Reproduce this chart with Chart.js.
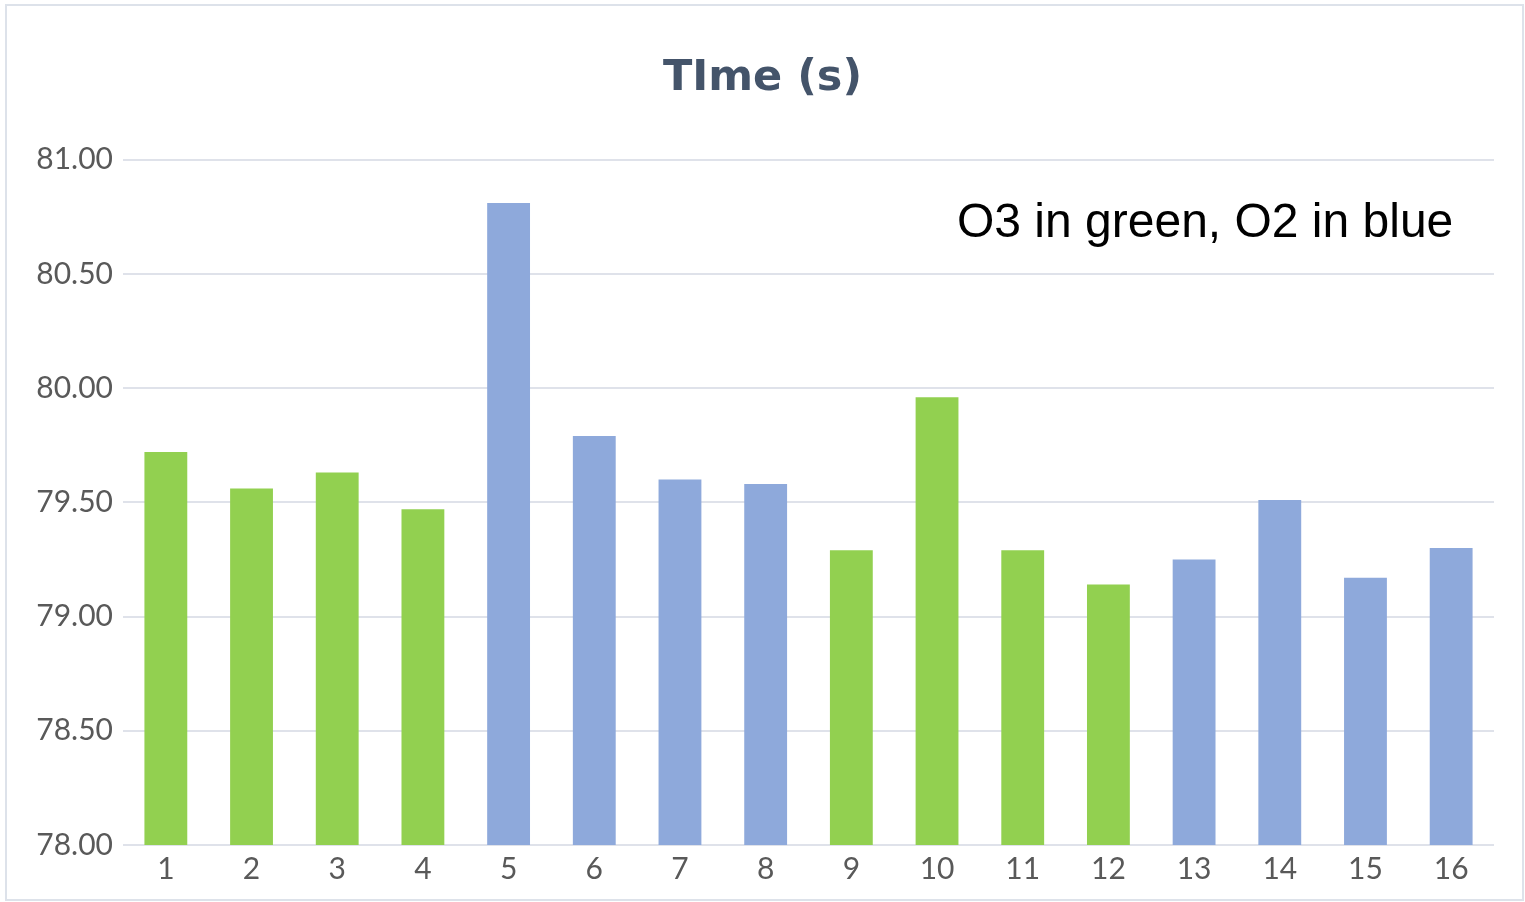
<!DOCTYPE html>
<html>
<head>
<meta charset="utf-8">
<style>
  html, body { margin: 0; padding: 0; background: #ffffff; }
  #wrap { position: relative; width: 1525px; height: 902px; }
</style>
<script src="https://cdn.jsdelivr.net/npm/chart.js@4/dist/chart.umd.min.js"></script>
</head>
<body>
<div id="wrap"><canvas id="chart" width="1525" height="902"></canvas></div>
<script>
// Run numbers shown along the x axis
const runs = ['1', '2', '3', '4', '5', '6', '7', '8', '9', '10', '11', '12', '13', '14', '15', '16'];
// Which optimisation level each run used
const levels = ['O3', 'O3', 'O3', 'O3', 'O2', 'O2', 'O2', 'O2', 'O3', 'O3', 'O3', 'O3', 'O2', 'O2', 'O2', 'O2'];
// Measured time in seconds
const times = [79.72, 79.56, 79.63, 79.47, 80.81, 79.79, 79.60, 79.58, 79.29, 79.96, 79.29, 79.14, 79.25, 79.51, 79.17, 79.30];
// Y axis range and step
const yTicks = { min: 78, max: 81, step: 0.5 };

const levelColors = { O3: '#92D050', O2: '#8EA9DB' };

// Light frame around the whole chart plus the colour note
const framePlugin = {
  id: 'frameAndNote',
  beforeDraw(chart) {
    const ctx = chart.ctx;
    ctx.save();
    ctx.fillStyle = '#ffffff';
    ctx.fillRect(0, 0, chart.width, chart.height);
    ctx.strokeStyle = '#dde2ea';
    ctx.lineWidth = 2;
    ctx.strokeRect(6, 5, chart.width - 8, chart.height - 7);
    ctx.restore();
  },
  afterDraw(chart) {
    const ctx = chart.ctx;
    ctx.save();
    ctx.fillStyle = '#000000';
    ctx.font = '48px "Liberation Sans", Arial, sans-serif';
    ctx.textBaseline = 'alphabetic';
    ctx.textAlign = 'left';
    ctx.fillText('O3 in green, O2 in blue', 957, 237);
    ctx.restore();
  }
};

new Chart(document.getElementById('chart'), {
  type: 'bar',
  data: {
    labels: runs,
    datasets: [{
      label: 'Time (s)',
      data: times,
      backgroundColor: levels.map(l => levelColors[l]),
      borderWidth: 0,
      barPercentage: 0.5,
      categoryPercentage: 1.0
    }]
  },
  options: {
    responsive: false,
    animation: false,
    layout: { padding: { left: 31, right: 31, top: 0, bottom: 9 } },
    plugins: {
      legend: { display: false },
      tooltip: { enabled: false },
      title: {
        display: true,
        text: 'TIme (s)',
        color: '#44546A',
        font: { family: '"DejaVu Sans"', size: 43, weight: 'bold' },
        padding: { top: 53, bottom: 55 }
      }
    },
    scales: {
      x: {
        grid: { display: false, drawTicks: false },
        border: { display: false },
        ticks: {
          color: '#595959',
          font: { family: 'Lato', size: 30 },
          padding: 6,
          maxRotation: 0
        }
      },
      y: {
        min: yTicks.min,
        max: yTicks.max,
        grid: { color: '#dfe2ea', lineWidth: 2, drawTicks: false },
        border: { display: false },
        ticks: {
          stepSize: yTicks.step,
          color: '#595959',
          font: { family: 'Lato', size: 30 },
          padding: 10,
          callback: v => Number(v).toFixed(2)
        },
        afterFit(scale) { scale.width = 92; }
      }
    }
  },
  plugins: [framePlugin]
});
</script>
</body>
</html>
